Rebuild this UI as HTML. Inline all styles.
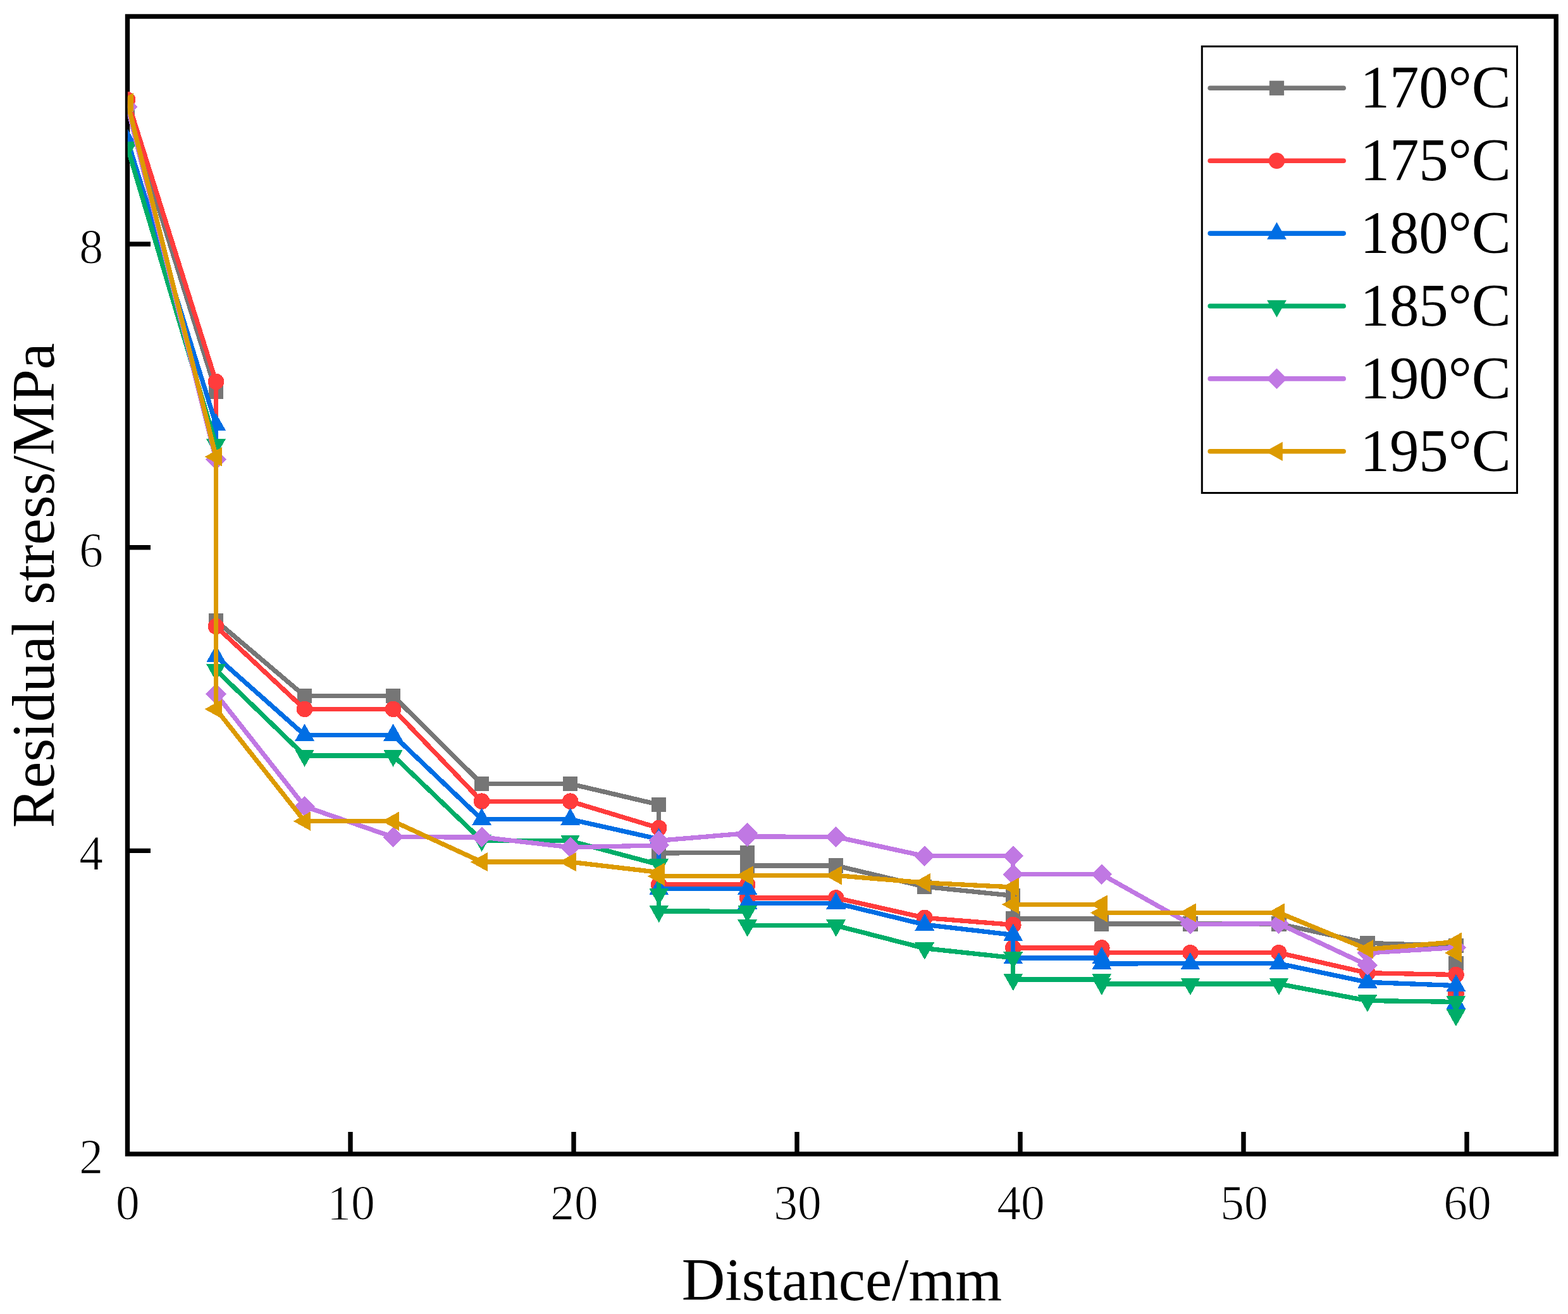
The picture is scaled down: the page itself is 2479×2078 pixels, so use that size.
<!DOCTYPE html>
<html lang="en"><head><meta charset="utf-8"><title>Residual stress vs distance</title>
<style>html,body{margin:0;padding:0;background:#fff;}body{width:2479px;height:2078px;overflow:hidden;}svg{display:block;}text{font-family:"Liberation Serif",serif;fill:#000;}</style></head><body>
<svg width="2479" height="2078" viewBox="0 0 2479 2078">
<rect x="0" y="0" width="2479" height="2078" fill="#fff"/>
<defs><clipPath id="plotclip"><rect x="201.9" y="22.0" width="2262.3" height="1807.0"/></clipPath></defs>
<rect x="201.5" y="26.0" width="2258.7" height="1799.0" fill="none" stroke="#000" stroke-width="7.4"/>
<line x1="201.5" y1="1345.4" x2="238.0" y2="1345.4" stroke="#000" stroke-width="7.4"/>
<line x1="201.5" y1="865.7" x2="238.0" y2="865.7" stroke="#000" stroke-width="7.4"/>
<line x1="201.5" y1="386.0" x2="238.0" y2="386.0" stroke="#000" stroke-width="7.4"/>
<line x1="554.0" y1="1825.0" x2="554.0" y2="1790" stroke="#000" stroke-width="7.4"/>
<line x1="907.0" y1="1825.0" x2="907.0" y2="1790" stroke="#000" stroke-width="7.4"/>
<line x1="1260.0" y1="1825.0" x2="1260.0" y2="1790" stroke="#000" stroke-width="7.4"/>
<line x1="1613.0" y1="1825.0" x2="1613.0" y2="1790" stroke="#000" stroke-width="7.4"/>
<line x1="1966.0" y1="1825.0" x2="1966.0" y2="1790" stroke="#000" stroke-width="7.4"/>
<line x1="2319.0" y1="1825.0" x2="2319.0" y2="1790" stroke="#000" stroke-width="7.4"/>
<text transform="translate(163,1854.9) scale(0.97,1)" font-size="78" text-anchor="end" stroke="#fff" stroke-width="1.1">2</text>
<text transform="translate(163,1375.2) scale(0.97,1)" font-size="78" text-anchor="end" stroke="#fff" stroke-width="1.1">4</text>
<text transform="translate(163,895.5) scale(0.97,1)" font-size="78" text-anchor="end" stroke="#fff" stroke-width="1.1">6</text>
<text transform="translate(163,415.8) scale(0.97,1)" font-size="78" text-anchor="end" stroke="#fff" stroke-width="1.1">8</text>
<text transform="translate(202.0,1928) scale(0.97,1)" font-size="78" text-anchor="middle" stroke="#fff" stroke-width="1.1">0</text>
<text transform="translate(555.0,1928) scale(0.97,1)" font-size="78" text-anchor="middle" stroke="#fff" stroke-width="1.1">10</text>
<text transform="translate(908.0,1928) scale(0.97,1)" font-size="78" text-anchor="middle" stroke="#fff" stroke-width="1.1">20</text>
<text transform="translate(1261.0,1928) scale(0.97,1)" font-size="78" text-anchor="middle" stroke="#fff" stroke-width="1.1">30</text>
<text transform="translate(1614.0,1928) scale(0.97,1)" font-size="78" text-anchor="middle" stroke="#fff" stroke-width="1.1">40</text>
<text transform="translate(1967.0,1928) scale(0.97,1)" font-size="78" text-anchor="middle" stroke="#fff" stroke-width="1.1">50</text>
<text transform="translate(2320.0,1928) scale(0.97,1)" font-size="78" text-anchor="middle" stroke="#fff" stroke-width="1.1">60</text>
<text x="1331" y="2055.5" font-size="95" text-anchor="middle">Distance/mm</text>
<text transform="translate(85,925.8) rotate(-90) scale(0.992,1)" font-size="95" text-anchor="middle">Residual stress/MPa</text>
<g clip-path="url(#plotclip)" shape-rendering="crispEdges">
<polyline points="201.5,171.7 341.5,619.2 341.5,981.6 481.6,1100.6 621.6,1100.6 761.6,1239.6 901.6,1239.6 1041.7,1272.5 1041.7,1348.9 1181.7,1348.7 1181.7,1368.9 1321.7,1368.9 1461.8,1402.2 1601.8,1416.5 1601.8,1452.9 1741.8,1452.9 1741.8,1461.0 1881.9,1461.0 2021.9,1461.0 2161.9,1491.4 2301.9,1495.6 2301.9,1523.4" fill="none" stroke="#767676" stroke-width="7.3" stroke-linejoin="round" stroke-linecap="round"/>
<rect x="189.9" y="160.1" width="23.2" height="23.2" fill="#767676"/>
<rect x="329.9" y="607.6" width="23.2" height="23.2" fill="#767676"/>
<rect x="329.9" y="970.0" width="23.2" height="23.2" fill="#767676"/>
<rect x="470.0" y="1089.0" width="23.2" height="23.2" fill="#767676"/>
<rect x="610.0" y="1089.0" width="23.2" height="23.2" fill="#767676"/>
<rect x="750.0" y="1228.0" width="23.2" height="23.2" fill="#767676"/>
<rect x="890.0" y="1228.0" width="23.2" height="23.2" fill="#767676"/>
<rect x="1030.1" y="1260.9" width="23.2" height="23.2" fill="#767676"/>
<rect x="1030.1" y="1337.3" width="23.2" height="23.2" fill="#767676"/>
<rect x="1170.1" y="1337.1" width="23.2" height="23.2" fill="#767676"/>
<rect x="1170.1" y="1357.3" width="23.2" height="23.2" fill="#767676"/>
<rect x="1310.1" y="1357.3" width="23.2" height="23.2" fill="#767676"/>
<rect x="1450.2" y="1390.6" width="23.2" height="23.2" fill="#767676"/>
<rect x="1590.2" y="1404.9" width="23.2" height="23.2" fill="#767676"/>
<rect x="1590.2" y="1441.3" width="23.2" height="23.2" fill="#767676"/>
<rect x="1730.2" y="1441.3" width="23.2" height="23.2" fill="#767676"/>
<rect x="1730.2" y="1449.4" width="23.2" height="23.2" fill="#767676"/>
<rect x="1870.3" y="1449.4" width="23.2" height="23.2" fill="#767676"/>
<rect x="2010.3" y="1449.4" width="23.2" height="23.2" fill="#767676"/>
<rect x="2150.3" y="1479.8" width="23.2" height="23.2" fill="#767676"/>
<rect x="2290.3" y="1484.0" width="23.2" height="23.2" fill="#767676"/>
<rect x="2290.3" y="1511.8" width="23.2" height="23.2" fill="#767676"/>
<polyline points="201.5,157.9 341.5,603.5 341.5,990.6 481.6,1121.4 621.6,1121.4 761.6,1267.2 901.6,1267.2 1041.7,1309.5 1041.7,1398.9 1181.7,1398.7 1181.7,1419.9 1321.7,1419.9 1461.8,1451.4 1601.8,1462.5 1601.8,1498.9 1741.8,1498.9 1741.8,1506.6 1881.9,1506.8 2021.9,1506.8 2161.9,1538.7 2301.9,1541.5 2301.9,1571.5" fill="none" stroke="#FF3C3C" stroke-width="7.3" stroke-linejoin="round" stroke-linecap="round"/>
<circle cx="201.5" cy="157.9" r="12.8" fill="#FF3C3C"/>
<circle cx="341.5" cy="603.5" r="12.8" fill="#FF3C3C"/>
<circle cx="341.5" cy="990.6" r="12.8" fill="#FF3C3C"/>
<circle cx="481.6" cy="1121.4" r="12.8" fill="#FF3C3C"/>
<circle cx="621.6" cy="1121.4" r="12.8" fill="#FF3C3C"/>
<circle cx="761.6" cy="1267.2" r="12.8" fill="#FF3C3C"/>
<circle cx="901.6" cy="1267.2" r="12.8" fill="#FF3C3C"/>
<circle cx="1041.7" cy="1309.5" r="12.8" fill="#FF3C3C"/>
<circle cx="1041.7" cy="1398.9" r="12.8" fill="#FF3C3C"/>
<circle cx="1181.7" cy="1398.7" r="12.8" fill="#FF3C3C"/>
<circle cx="1181.7" cy="1419.9" r="12.8" fill="#FF3C3C"/>
<circle cx="1321.7" cy="1419.9" r="12.8" fill="#FF3C3C"/>
<circle cx="1461.8" cy="1451.4" r="12.8" fill="#FF3C3C"/>
<circle cx="1601.8" cy="1462.5" r="12.8" fill="#FF3C3C"/>
<circle cx="1601.8" cy="1498.9" r="12.8" fill="#FF3C3C"/>
<circle cx="1741.8" cy="1498.9" r="12.8" fill="#FF3C3C"/>
<circle cx="1741.8" cy="1506.6" r="12.8" fill="#FF3C3C"/>
<circle cx="1881.9" cy="1506.8" r="12.8" fill="#FF3C3C"/>
<circle cx="2021.9" cy="1506.8" r="12.8" fill="#FF3C3C"/>
<circle cx="2161.9" cy="1538.7" r="12.8" fill="#FF3C3C"/>
<circle cx="2301.9" cy="1541.5" r="12.8" fill="#FF3C3C"/>
<circle cx="2301.9" cy="1571.5" r="12.8" fill="#FF3C3C"/>
<polyline points="201.5,221.5 341.5,671.4 341.5,1038.0 481.6,1162.4 621.6,1162.4 761.6,1295.7 901.6,1295.7 1041.7,1327.0 1041.7,1405.6 1181.7,1405.2 1181.7,1428.2 1321.7,1428.2 1461.8,1462.2 1601.8,1478.5 1601.8,1515.1 1741.8,1515.1 1741.8,1523.9 1881.9,1523.8 2021.9,1523.8 2161.9,1553.3 2301.9,1558.6 2301.9,1586.5" fill="none" stroke="#006EE4" stroke-width="7.3" stroke-linejoin="round" stroke-linecap="round"/>
<polygon points="201.5,203.6 216.9,230.8 186.1,230.8" fill="#006EE4"/>
<polygon points="341.5,653.5 356.9,680.7 326.1,680.7" fill="#006EE4"/>
<polygon points="341.5,1020.1 356.9,1047.3 326.1,1047.3" fill="#006EE4"/>
<polygon points="481.6,1144.5 497.0,1171.7 466.2,1171.7" fill="#006EE4"/>
<polygon points="621.6,1144.5 637.0,1171.7 606.2,1171.7" fill="#006EE4"/>
<polygon points="761.6,1277.8 777.0,1305.0 746.2,1305.0" fill="#006EE4"/>
<polygon points="901.6,1277.8 917.0,1305.0 886.2,1305.0" fill="#006EE4"/>
<polygon points="1041.7,1309.1 1057.1,1336.3 1026.3,1336.3" fill="#006EE4"/>
<polygon points="1041.7,1387.7 1057.1,1414.9 1026.3,1414.9" fill="#006EE4"/>
<polygon points="1181.7,1387.3 1197.1,1414.5 1166.3,1414.5" fill="#006EE4"/>
<polygon points="1181.7,1410.3 1197.1,1437.5 1166.3,1437.5" fill="#006EE4"/>
<polygon points="1321.7,1410.3 1337.1,1437.5 1306.3,1437.5" fill="#006EE4"/>
<polygon points="1461.8,1444.3 1477.2,1471.5 1446.4,1471.5" fill="#006EE4"/>
<polygon points="1601.8,1460.6 1617.2,1487.8 1586.4,1487.8" fill="#006EE4"/>
<polygon points="1601.8,1497.2 1617.2,1524.4 1586.4,1524.4" fill="#006EE4"/>
<polygon points="1741.8,1497.2 1757.2,1524.4 1726.4,1524.4" fill="#006EE4"/>
<polygon points="1741.8,1506.0 1757.2,1533.2 1726.4,1533.2" fill="#006EE4"/>
<polygon points="1881.9,1505.9 1897.3,1533.1 1866.5,1533.1" fill="#006EE4"/>
<polygon points="2021.9,1505.9 2037.3,1533.1 2006.5,1533.1" fill="#006EE4"/>
<polygon points="2161.9,1535.4 2177.3,1562.6 2146.5,1562.6" fill="#006EE4"/>
<polygon points="2301.9,1540.7 2317.3,1567.9 2286.5,1567.9" fill="#006EE4"/>
<polygon points="2301.9,1568.6 2317.3,1595.8 2286.5,1595.8" fill="#006EE4"/>
<polyline points="201.5,233.1 341.5,703.5 341.5,1059.5 481.6,1194.9 621.6,1194.9 761.6,1329.0 901.6,1329.9 1041.7,1367.3 1041.7,1414.1 1041.7,1441.1 1181.7,1441.2 1181.7,1463.7 1321.7,1463.7 1461.8,1499.7 1601.8,1514.7 1601.8,1549.1 1741.8,1549.1 1741.8,1555.9 1881.9,1556.0 2021.9,1556.0 2161.9,1582.5 2301.9,1584.4 2301.9,1605.2" fill="none" stroke="#00AD68" stroke-width="7.3" stroke-linejoin="round" stroke-linecap="round"/>
<polygon points="201.5,251.0 216.9,223.8 186.1,223.8" fill="#00AD68"/>
<polygon points="341.5,721.4 356.9,694.2 326.1,694.2" fill="#00AD68"/>
<polygon points="341.5,1077.4 356.9,1050.2 326.1,1050.2" fill="#00AD68"/>
<polygon points="481.6,1212.8 497.0,1185.6 466.2,1185.6" fill="#00AD68"/>
<polygon points="621.6,1212.8 637.0,1185.6 606.2,1185.6" fill="#00AD68"/>
<polygon points="761.6,1346.9 777.0,1319.7 746.2,1319.7" fill="#00AD68"/>
<polygon points="901.6,1347.8 917.0,1320.6 886.2,1320.6" fill="#00AD68"/>
<polygon points="1041.7,1385.2 1057.1,1358.0 1026.3,1358.0" fill="#00AD68"/>
<polygon points="1041.7,1432.0 1057.1,1404.8 1026.3,1404.8" fill="#00AD68"/>
<polygon points="1041.7,1459.0 1057.1,1431.8 1026.3,1431.8" fill="#00AD68"/>
<polygon points="1181.7,1459.1 1197.1,1431.9 1166.3,1431.9" fill="#00AD68"/>
<polygon points="1181.7,1481.6 1197.1,1454.4 1166.3,1454.4" fill="#00AD68"/>
<polygon points="1321.7,1481.6 1337.1,1454.4 1306.3,1454.4" fill="#00AD68"/>
<polygon points="1461.8,1517.6 1477.2,1490.4 1446.4,1490.4" fill="#00AD68"/>
<polygon points="1601.8,1532.6 1617.2,1505.4 1586.4,1505.4" fill="#00AD68"/>
<polygon points="1601.8,1567.0 1617.2,1539.8 1586.4,1539.8" fill="#00AD68"/>
<polygon points="1741.8,1567.0 1757.2,1539.8 1726.4,1539.8" fill="#00AD68"/>
<polygon points="1741.8,1573.8 1757.2,1546.6 1726.4,1546.6" fill="#00AD68"/>
<polygon points="1881.9,1573.9 1897.3,1546.7 1866.5,1546.7" fill="#00AD68"/>
<polygon points="2021.9,1573.9 2037.3,1546.7 2006.5,1546.7" fill="#00AD68"/>
<polygon points="2161.9,1600.4 2177.3,1573.2 2146.5,1573.2" fill="#00AD68"/>
<polygon points="2301.9,1602.3 2317.3,1575.1 2286.5,1575.1" fill="#00AD68"/>
<polygon points="2301.9,1623.1 2317.3,1595.9 2286.5,1595.9" fill="#00AD68"/>
<polyline points="201.5,169.0 341.5,726.4 341.5,1097.5 481.6,1275.3 621.6,1323.8 761.6,1323.9 901.6,1339.9 1041.7,1336.9 1041.7,1329.4 1181.7,1317.6 1181.7,1322.9 1321.7,1323.5 1461.8,1353.8 1601.8,1353.7 1601.8,1382.8 1741.8,1382.8 1881.9,1461.4 2021.9,1460.7 2161.9,1526.3 2161.9,1507.0 2301.9,1498.5" fill="none" stroke="#C078E3" stroke-width="7.3" stroke-linejoin="round" stroke-linecap="round"/>
<polygon points="201.5,152.7 217.8,169.0 201.5,185.3 185.2,169.0" fill="#C078E3"/>
<polygon points="341.5,710.1 357.8,726.4 341.5,742.7 325.2,726.4" fill="#C078E3"/>
<polygon points="341.5,1081.2 357.8,1097.5 341.5,1113.8 325.2,1097.5" fill="#C078E3"/>
<polygon points="481.6,1259.0 497.9,1275.3 481.6,1291.6 465.3,1275.3" fill="#C078E3"/>
<polygon points="621.6,1307.5 637.9,1323.8 621.6,1340.1 605.3,1323.8" fill="#C078E3"/>
<polygon points="761.6,1307.6 777.9,1323.9 761.6,1340.2 745.3,1323.9" fill="#C078E3"/>
<polygon points="901.6,1323.6 917.9,1339.9 901.6,1356.2 885.4,1339.9" fill="#C078E3"/>
<polygon points="1041.7,1320.6 1058.0,1336.9 1041.7,1353.2 1025.4,1336.9" fill="#C078E3"/>
<polygon points="1041.7,1313.1 1058.0,1329.4 1041.7,1345.7 1025.4,1329.4" fill="#C078E3"/>
<polygon points="1181.7,1301.3 1198.0,1317.6 1181.7,1333.9 1165.4,1317.6" fill="#C078E3"/>
<polygon points="1181.7,1306.6 1198.0,1322.9 1181.7,1339.2 1165.4,1322.9" fill="#C078E3"/>
<polygon points="1321.7,1307.2 1338.0,1323.5 1321.7,1339.8 1305.4,1323.5" fill="#C078E3"/>
<polygon points="1461.8,1337.5 1478.1,1353.8 1461.8,1370.1 1445.5,1353.8" fill="#C078E3"/>
<polygon points="1601.8,1337.4 1618.1,1353.7 1601.8,1370.0 1585.5,1353.7" fill="#C078E3"/>
<polygon points="1601.8,1366.5 1618.1,1382.8 1601.8,1399.1 1585.5,1382.8" fill="#C078E3"/>
<polygon points="1741.8,1366.5 1758.1,1382.8 1741.8,1399.1 1725.5,1382.8" fill="#C078E3"/>
<polygon points="1881.9,1445.1 1898.2,1461.4 1881.9,1477.7 1865.6,1461.4" fill="#C078E3"/>
<polygon points="2021.9,1444.4 2038.2,1460.7 2021.9,1477.0 2005.6,1460.7" fill="#C078E3"/>
<polygon points="2161.9,1510.0 2178.2,1526.3 2161.9,1542.6 2145.6,1526.3" fill="#C078E3"/>
<polygon points="2161.9,1490.7 2178.2,1507.0 2161.9,1523.3 2145.6,1507.0" fill="#C078E3"/>
<polygon points="2301.9,1482.2 2318.2,1498.5 2301.9,1514.8 2285.6,1498.5" fill="#C078E3"/>
<polyline points="201.5,162.0 341.5,722.4 341.5,1121.4 481.6,1298.7 621.6,1298.7 761.6,1363.1 901.6,1363.1 1041.7,1379.6 1041.7,1385.7 1181.7,1385.3 1181.7,1384.4 1321.7,1384.4 1461.8,1396.0 1601.8,1403.0 1601.8,1430.3 1741.8,1430.3 1741.8,1443.5 1881.9,1443.4 2021.9,1443.4 2161.9,1501.2 2301.9,1489.5 2301.9,1507.0" fill="none" stroke="#DC9A00" stroke-width="7.3" stroke-linejoin="round" stroke-linecap="round"/>
<polygon points="183.6,162.0 210.8,146.9 210.8,177.1" fill="#DC9A00"/>
<polygon points="323.6,722.4 350.8,707.3 350.8,737.5" fill="#DC9A00"/>
<polygon points="323.6,1121.4 350.8,1106.3 350.8,1136.5" fill="#DC9A00"/>
<polygon points="463.7,1298.7 490.9,1283.6 490.9,1313.8" fill="#DC9A00"/>
<polygon points="603.7,1298.7 630.9,1283.6 630.9,1313.8" fill="#DC9A00"/>
<polygon points="743.7,1363.1 770.9,1348.0 770.9,1378.2" fill="#DC9A00"/>
<polygon points="883.8,1363.1 910.9,1348.0 910.9,1378.2" fill="#DC9A00"/>
<polygon points="1023.8,1379.6 1051.0,1364.5 1051.0,1394.7" fill="#DC9A00"/>
<polygon points="1023.8,1385.7 1051.0,1370.6 1051.0,1400.8" fill="#DC9A00"/>
<polygon points="1163.8,1385.3 1191.0,1370.2 1191.0,1400.4" fill="#DC9A00"/>
<polygon points="1163.8,1384.4 1191.0,1369.3 1191.0,1399.5" fill="#DC9A00"/>
<polygon points="1303.8,1384.4 1331.0,1369.3 1331.0,1399.5" fill="#DC9A00"/>
<polygon points="1443.9,1396.0 1471.1,1380.9 1471.1,1411.1" fill="#DC9A00"/>
<polygon points="1583.9,1403.0 1611.1,1387.9 1611.1,1418.1" fill="#DC9A00"/>
<polygon points="1583.9,1430.3 1611.1,1415.2 1611.1,1445.4" fill="#DC9A00"/>
<polygon points="1723.9,1430.3 1751.1,1415.2 1751.1,1445.4" fill="#DC9A00"/>
<polygon points="1723.9,1443.5 1751.1,1428.4 1751.1,1458.6" fill="#DC9A00"/>
<polygon points="1864.0,1443.4 1891.2,1428.3 1891.2,1458.5" fill="#DC9A00"/>
<polygon points="2004.0,1443.4 2031.2,1428.3 2031.2,1458.5" fill="#DC9A00"/>
<polygon points="2144.0,1501.2 2171.2,1486.1 2171.2,1516.3" fill="#DC9A00"/>
<polygon points="2284.0,1489.5 2311.2,1474.4 2311.2,1504.6" fill="#DC9A00"/>
<polygon points="2284.0,1507.0 2311.2,1491.9 2311.2,1522.1" fill="#DC9A00"/>
</g>
<rect x="1900.3" y="73.4" width="498.2" height="706.1" fill="#fff" stroke="#000" stroke-width="3"/>
<line x1="1913.2" y1="139.3" x2="2124.2" y2="139.3" stroke="#767676" stroke-width="7.6" stroke-linecap="round"/>
<rect x="2006.9" y="127.7" width="23.2" height="23.2" fill="#767676"/>
<text transform="translate(2150.5,170.1) scale(0.967,1)" font-size="96">170°C</text>
<line x1="1913.2" y1="254.2" x2="2124.2" y2="254.2" stroke="#FF3C3C" stroke-width="7.6" stroke-linecap="round"/>
<circle cx="2018.5" cy="254.2" r="12.8" fill="#FF3C3C"/>
<text transform="translate(2150.5,285.0) scale(0.967,1)" font-size="96">175°C</text>
<line x1="1913.2" y1="369.1" x2="2124.2" y2="369.1" stroke="#006EE4" stroke-width="7.6" stroke-linecap="round"/>
<polygon points="2018.5,351.2 2033.9,378.4 2003.1,378.4" fill="#006EE4"/>
<text transform="translate(2150.5,399.9) scale(0.967,1)" font-size="96">180°C</text>
<line x1="1913.2" y1="484.0" x2="2124.2" y2="484.0" stroke="#00AD68" stroke-width="7.6" stroke-linecap="round"/>
<polygon points="2018.5,501.9 2033.9,474.7 2003.1,474.7" fill="#00AD68"/>
<text transform="translate(2150.5,514.8) scale(0.967,1)" font-size="96">185°C</text>
<line x1="1913.2" y1="598.9" x2="2124.2" y2="598.9" stroke="#C078E3" stroke-width="7.6" stroke-linecap="round"/>
<polygon points="2018.5,582.6 2034.8,598.9 2018.5,615.2 2002.2,598.9" fill="#C078E3"/>
<text transform="translate(2150.5,629.7) scale(0.967,1)" font-size="96">190°C</text>
<line x1="1913.2" y1="713.8" x2="2124.2" y2="713.8" stroke="#DC9A00" stroke-width="7.6" stroke-linecap="round"/>
<polygon points="2000.6,713.8 2027.8,698.7 2027.8,728.9" fill="#DC9A00"/>
<text transform="translate(2150.5,744.6) scale(0.967,1)" font-size="96">195°C</text>
</svg></body></html>
